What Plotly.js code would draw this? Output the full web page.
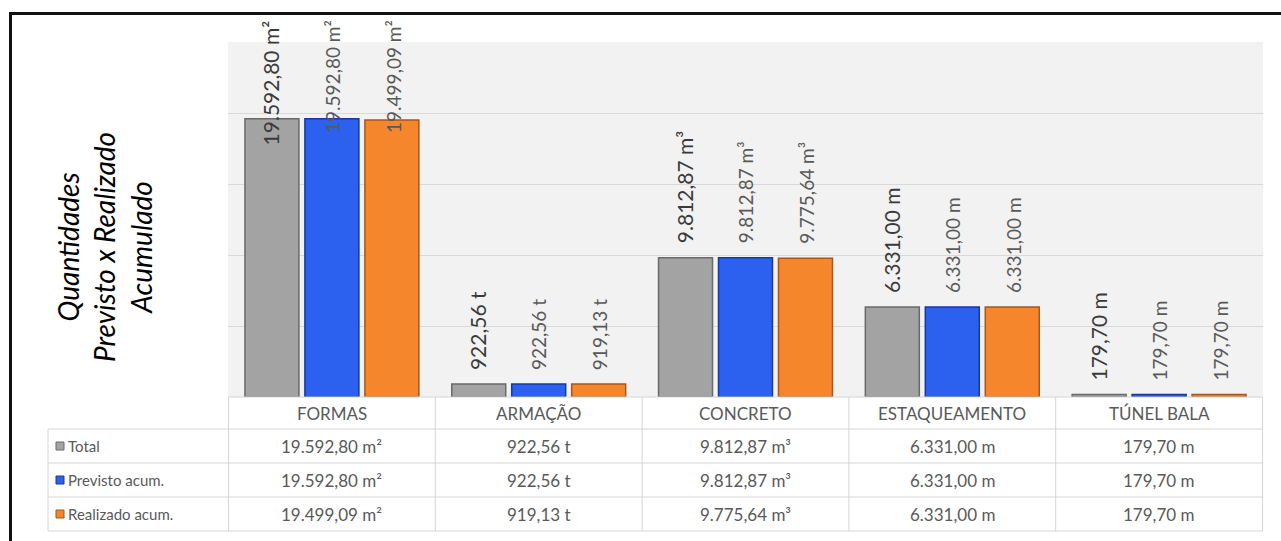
<!DOCTYPE html>
<html>
<head>
<meta charset="utf-8">
<script src="https://cdn.plot.ly/plotly-3.0.1.min.js"></script>
<style>
  html, body { margin: 0; padding: 0; background: #ffffff; }
  #frame { position: absolute; left: 9px; top: 12px; width: 1280px; height: 540px;
           border-top: 3px solid #111; border-left: 3px solid #111; }
  #chart { position: absolute; left: 0; top: 0; width: 1281px; height: 541px; }
</style>
</head>
<body>
<div id="frame"></div>
<div id="chart"></div>
<script>
// ---- data ----
const categories = ['FORMAS', 'ARMAÇÃO', 'CONCRETO', 'ESTAQUEAMENTO', 'TÚNEL BALA'];
const units = ['m²', 't', 'm³', 'm', 'm'];
const seriesNames = ['Total', 'Previsto acum.', 'Realizado acum.'];
const total = [19592.80, 922.56, 9812.87, 6331.00, 179.70];
const previsto = [19592.80, 922.56, 9812.87, 6331.00, 179.70];
const realizado = [19499.09, 919.13, 9775.64, 6331.00, 179.70];
const yTitle = 'Quantidades<br>Previsto x Realizado<br>Acumulado';

// ---- styling ----
const seriesData = [total, previsto, realizado];
const colors = ['#a3a3a3', '#2c60ee', '#f5862c'];
const edgeColors = ['#6a6a6a', '#17389c', '#a8561b'];
const FONT = 'Lato, "Open Sans", sans-serif';
const TABLE_LINE = '#d6d6d6';
const TABLE_TEXT = '#595959';

function fmt(v) {
  const parts = v.toFixed(2).split('.');
  const intPart = parts[0].replace(/\B(?=(\d{3})+(?!\d))/g, '.');
  return intPart + ',' + parts[1];
}
function label(v, j) { return fmt(v) + ' ' + units[j]; }

const W = 1281, H = 541;
const margin = {l: 48, r: 18, t: 42, b: 9};
const plotLeftPx = 228, baselinePx = 397;
const paperW = W - margin.l - margin.r;
const paperH = H - margin.t - margin.b;
const yMax = 25000;
const plotH = baselinePx - margin.t;
const px = (x) => (x - margin.l) / paperW;           // page px -> paper x
const py = (y) => (H - margin.b - y) / paperH;       // page px -> paper y

const traces = seriesData.map((vals, i) => ({
  type: 'bar',
  name: seriesNames[i],
  x: categories,
  y: vals,
  marker: {color: colors[i], line: {color: edgeColors[i], width: 1.5}},
  hoverinfo: 'skip',
  showlegend: false
}));

const annotations = [];
const shapes = [];

// rotated value labels above each bar
const slotPx = 61;
seriesData.forEach((vals, i) => {
  const fs = i === 0 ? 21 : 19;
  vals.forEach((v, j) => {
    const txt = label(v, j);
    const topPx = baselinePx - v / yMax * plotH;
    const estLen = txt.length * fs * 0.52;
    const bottomPx = Math.max(topPx - 12, 16 + estLen);
    annotations.push({
      x: categories[j], y: v, xref: 'x', yref: 'y',
      xshift: (i - 1) * slotPx, yshift: topPx - bottomPx,
      text: txt, textangle: -90, showarrow: false,
      xanchor: 'center', yanchor: 'bottom',
      font: {family: FONT, size: fs, color: i === 0 ? '#3a3a3a' : '#595959'}
    });
  });
});

// axis title
annotations.push({
  xref: 'paper', yref: 'paper',
  x: px(104), y: py(247),
  xanchor: 'center', yanchor: 'middle',
  text: yTitle, textangle: -90, showarrow: false,
  font: {family: FONT, size: 28, color: '#000000', style: 'italic'}
});

// ---- data table (drawn with shapes + annotations) ----
const rowEdges = [397, 429, 463, 497, 531];
const tableLeft = 48;
const line = {color: TABLE_LINE, width: 1};
// header top line (only over category columns)
shapes.push({type: 'line', xref: 'x', yref: 'paper', x0: -0.5, x1: categories.length - 0.5,
             y0: py(rowEdges[0]), y1: py(rowEdges[0]), line: line});
// remaining horizontal lines (full width)
rowEdges.slice(1).forEach(r => {
  shapes.push({type: 'line', xref: 'paper', yref: 'paper', x0: px(tableLeft), x1: 1,
               y0: py(r), y1: py(r), line: line});
});
// left edge of row-label column
shapes.push({type: 'line', xref: 'paper', yref: 'paper', x0: px(tableLeft), x1: px(tableLeft),
             y0: py(rowEdges[1]), y1: py(rowEdges[rowEdges.length - 1]), line: line});
// category column separators
for (let k = 0; k <= categories.length; k++) {
  shapes.push({type: 'line', xref: 'x', yref: 'paper', x0: k - 0.5, x1: k - 0.5,
               y0: py(rowEdges[0]), y1: py(rowEdges[rowEdges.length - 1]), line: line});
}
// header texts
categories.forEach((c) => {
  annotations.push({xref: 'x', yref: 'paper', x: c, y: py((rowEdges[0] + rowEdges[1]) / 2),
    text: c, showarrow: false, xanchor: 'center', yanchor: 'middle',
    font: {family: FONT, size: 17, color: TABLE_TEXT}});
});
// rows
seriesData.forEach((vals, i) => {
  const cy = (rowEdges[i + 1] + rowEdges[i + 2]) / 2;
  shapes.push({type: 'rect', xref: 'paper', yref: 'paper',
    x0: px(56), x1: px(64), y0: py(cy + 4), y1: py(cy - 4),
    fillcolor: colors[i], line: {color: edgeColors[i], width: 1}});
  annotations.push({xref: 'paper', yref: 'paper', x: px(66), y: py(cy),
    text: seriesNames[i], showarrow: false, xanchor: 'left', yanchor: 'middle',
    font: {family: FONT, size: 15, color: TABLE_TEXT}});
  vals.forEach((v, j) => {
    annotations.push({xref: 'x', yref: 'paper', x: categories[j], y: py(cy),
      text: label(v, j), showarrow: false, xanchor: 'center', yanchor: 'middle',
      font: {family: FONT, size: 17, color: TABLE_TEXT}});
  });
});

const layout = {
  width: W, height: H,
  margin: margin,
  paper_bgcolor: 'rgba(0,0,0,0)',
  plot_bgcolor: '#f2f2f2',
  barmode: 'group',
  bargap: 0.13,
  bargroupgap: 0.1,
  showlegend: false,
  xaxis: {
    domain: [px(plotLeftPx), 1],
    showticklabels: false, ticks: '', showgrid: false, zeroline: false, showline: false,
    fixedrange: true
  },
  yaxis: {
    domain: [py(baselinePx), 1],
    range: [0, yMax], dtick: 5000,
    showticklabels: false, ticks: '', gridcolor: '#d9d9d9', gridwidth: 1,
    zeroline: false, showline: false, fixedrange: true
  },
  annotations: annotations,
  shapes: shapes,
  font: {family: FONT}
};

Plotly.newPlot('chart', traces, layout, {displayModeBar: false, staticPlot: true});
</script>
</body>
</html>
